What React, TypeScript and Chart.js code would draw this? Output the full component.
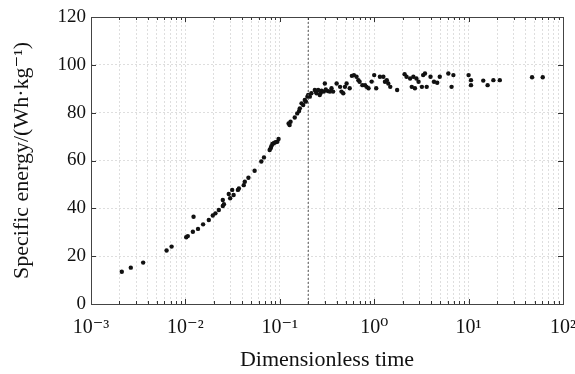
import React, { useEffect, useRef } from "react";
import { Chart, registerables } from "chart.js";

Chart.register(...registerables);

const timeValues: number[] = [
  0.00212, 0.00264, 0.00357, 0.00632, 0.00714, 0.0102, 0.0106, 0.012, 0.0122, 0.0136,
  0.0154, 0.0177, 0.0195, 0.0208, 0.0226, 0.0249, 0.0256, 0.0249, 0.0288, 0.0298,
  0.0313, 0.0324, 0.036, 0.0369, 0.0415, 0.0426, 0.0465, 0.0541, 0.0637, 0.068,
  0.0781, 0.08, 0.0813, 0.0835, 0.0862, 0.0898, 0.094, 0.097, 0.124, 0.127,
  0.13, 0.144, 0.153, 0.16, 0.163, 0.17, 0.177, 0.184, 0.189, 0.196,
  0.2, 0.208, 0.216, 0.235, 0.241, 0.245, 0.255, 0.265, 0.27, 0.277,
  0.293, 0.3, 0.307, 0.325, 0.34, 0.353, 0.367, 0.4, 0.435, 0.45,
  0.47, 0.49, 0.51, 0.55, 0.58, 0.61, 0.65, 0.68, 0.7, 0.75,
  0.8, 0.83, 0.87, 0.94, 1.0, 1.05, 1.15, 1.25, 1.3, 1.36,
  1.41, 1.48, 1.75, 2.1, 2.2, 2.4, 2.5, 2.6, 2.7, 2.8,
  2.95, 3.2, 3.3, 3.45, 3.6, 3.95, 4.3, 4.65, 4.95, 6.1,
  6.6, 6.9, 10.0, 10.6, 10.6, 14.3, 15.9, 18.3, 21.4, 47.0,
  61.0,
];

const energyValues: number[] = [
  13.5, 15.2, 17.3, 22.4, 24.0, 27.9, 28.4, 30.2, 36.5, 31.4,
  33.3, 35.1, 37.0, 37.9, 39.3, 41.0, 41.7, 43.5, 46.0, 44.2,
  47.7, 45.6, 47.7, 48.3, 49.7, 51.1, 52.8, 55.7, 59.6, 61.3,
  64.4, 65.1, 66.0, 66.9, 67.2, 67.6, 67.8, 69.0, 75.5, 74.8,
  76.2, 78.0, 79.7, 80.7, 81.8, 83.9, 83.2, 85.3, 84.6, 86.7,
  87.4, 86.7, 88.1, 89.5, 88.8, 88.1, 89.5, 87.4, 88.1, 89.2,
  88.8, 92.2, 89.7, 89.0, 88.8, 90.2, 88.8, 92.2, 90.8, 88.8,
  88.1, 90.8, 92.2, 90.2, 95.4, 95.7, 95.0, 93.6, 92.9, 91.5,
  91.5, 90.8, 90.2, 93.0, 95.7, 90.2, 95.0, 95.0, 92.9, 93.6,
  92.2, 90.8, 89.5, 96.1, 95.0, 94.3, 90.8, 95.0, 90.2, 94.3,
  92.9, 90.8, 95.7, 96.4, 90.8, 95.0, 92.9, 92.5, 95.0, 96.4,
  90.8, 95.7, 95.7, 93.6, 91.5, 93.4, 91.5, 93.6, 93.6, 94.8,
  94.8,
];

const criticalTime = 0.2;
const yTickValues: number[] = [0, 20, 40, 60, 80, 100, 120];
const xDecades: number[] = [-3, -2, -1, 0, 1, 2];

const xTitle = "Dimensionless time";
const yTitle = "Specific energy/(Wh·kg⁻¹)";

const SUP: Record<string, string> = {
  "-": "⁻", "0": "⁰", "1": "¹", "2": "²", "3": "³", "4": "⁴",
  "5": "⁵", "6": "⁶", "7": "⁷", "8": "⁸", "9": "⁹",
};
const powLabel = (e: number) => "10" + String(e).split("").map((c) => SUP[c] || c).join("");

const FONT = "'Liberation Serif', 'DejaVu Serif', serif";

const framePlugin = {
  id: "frameAndTicks",
  afterDraw(chart: any) {
    const { ctx, chartArea } = chart;
    const { left, right, top, bottom } = chartArea;
    const xs = chart.scales.x;
    const ys = chart.scales.y;
    ctx.save();
    ctx.strokeStyle = "#333";
    ctx.lineWidth = 1;
    ctx.beginPath();
    xs.ticks.forEach((t: any) => {
      const p = Math.round(xs.getPixelForValue(t.value)) + 0.5;
      const len = t.major ? 5 : 3;
      ctx.moveTo(p, bottom);
      ctx.lineTo(p, bottom - len);
      ctx.moveTo(p, top);
      ctx.lineTo(p, top + len);
    });
    ys.ticks.forEach((t: any) => {
      const p = Math.round(ys.getPixelForValue(t.value)) + 0.5;
      ctx.moveTo(left, p);
      ctx.lineTo(left + 5, p);
      ctx.moveTo(right, p);
      ctx.lineTo(right - 5, p);
    });
    ctx.stroke();
    ctx.strokeStyle = "#444";
    ctx.strokeRect(Math.round(left) + 0.5, Math.round(top) + 0.5, Math.round(right - left), Math.round(bottom - top));
    ctx.restore();
  },
};

export default function App() {
  const ref = useRef<HTMLCanvasElement | null>(null);
  useEffect(() => {
    if (!ref.current) return;
    const points = timeValues.map((x, i) => ({ x, y: energyValues[i] }));
    const chart = new Chart(ref.current, {
      type: "scatter",
      data: {
        datasets: [
          {
            data: [
              { x: criticalTime, y: yTickValues[0] },
              { x: criticalTime, y: yTickValues[yTickValues.length - 1] },
            ],
            showLine: true,
            borderColor: "#555",
            borderWidth: 1,
            borderDash: [2, 2],
            pointRadius: 0,
          } as any,
          {
            data: points,
            pointRadius: 2.2,
            pointBackgroundColor: "#111",
            pointBorderWidth: 0,
            borderColor: "#111",
          },
        ],
      },
      options: {
        animation: false,
        responsive: false,
        devicePixelRatio: 1,
        layout: { padding: { top: 17, right: 12, left: 0, bottom: 0 } },
        plugins: { legend: { display: false }, tooltip: { enabled: false } },
        scales: {
          x: {
            type: "logarithmic",
            min: Math.pow(10, xDecades[0]),
            max: Math.pow(10, xDecades[xDecades.length - 1]),
            afterBuildTicks(scale: any) {
              const ticks: any[] = [];
              for (let d = 0; d < xDecades.length - 1; d++) {
                for (let k = 1; k <= 9; k++) {
                  ticks.push({ value: k * Math.pow(10, xDecades[d]), major: k === 1 });
                }
              }
              ticks.push({ value: Math.pow(10, xDecades[xDecades.length - 1]), major: true });
              scale.ticks = ticks;
            },
            afterFit(scale: any) {
              scale.height = 70;
              scale.paddingRight = 0;
              scale.paddingLeft = 0;
            },
            ticks: {
              autoSkip: false,
              maxRotation: 0,
              padding: 12,
              color: "#111",
              font: { family: FONT, size: 20 },
              callback(value: any) {
                const e = Math.log10(Number(value));
                if (Math.abs(e - Math.round(e)) < 1e-9) return powLabel(Math.round(e));
                return "";
              },
            },
            grid: {
              color: "rgba(0,0,0,0.13)",
              drawTicks: false,
              lineWidth: 1,
            },
            border: { display: false, dash: [2, 2] },
            title: {
              display: true,
              text: xTitle,
              color: "#111",
              font: { family: FONT, size: 22 },
              padding: { top: 0, bottom: 1 },
            },
          },
          y: {
            type: "linear",
            min: yTickValues[0],
            max: yTickValues[yTickValues.length - 1],
            afterBuildTicks(scale: any) {
              scale.ticks = yTickValues.map((v) => ({ value: v }));
            },
            afterFit(scale: any) {
              scale.width = 91;
            },
            ticks: {
              padding: 5,
              color: "#111",
              font: { family: FONT, size: 19 },
            },
            grid: {
              color: "rgba(0,0,0,0.13)",
              drawTicks: false,
            },
            border: { display: false, dash: [2, 2] },
            title: {
              display: true,
              text: yTitle,
              color: "#111",
              font: { family: FONT, size: 22 },
              padding: { top: 9, bottom: 0 },
            },
          },
        },
      },
      plugins: [framePlugin],
    });
    return () => chart.destroy();
  }, []);
  return (
    <div style={{ position: "fixed", left: 0, top: 0, width: 575, height: 374, background: "#fff" }}>
      <canvas ref={ref} width={575} height={374} />
    </div>
  );
}
